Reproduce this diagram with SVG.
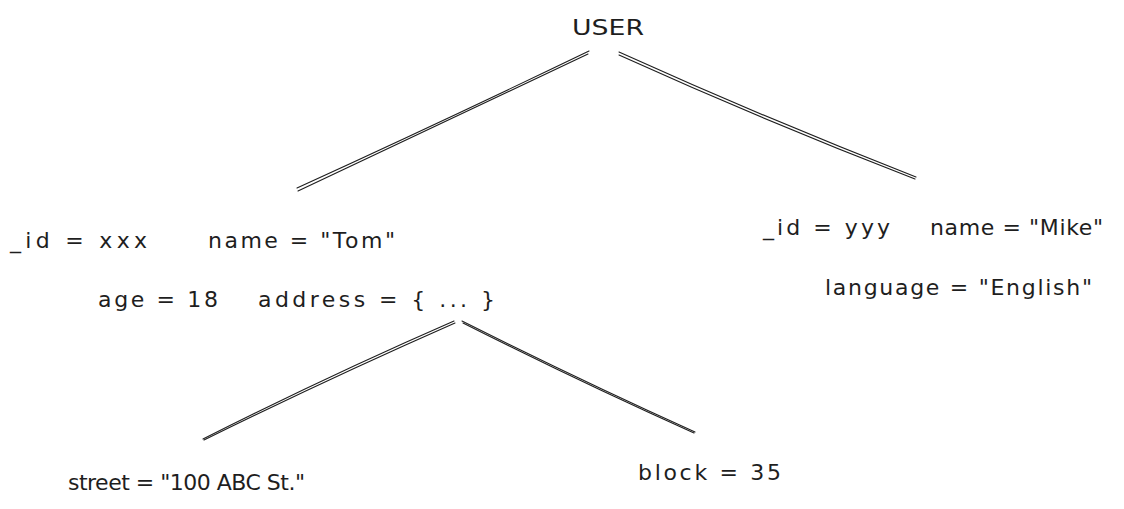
<svg xmlns="http://www.w3.org/2000/svg" width="1124" height="509" viewBox="0 0 1124 509">
<style>
text{font-family:"DejaVu Sans","Liberation Sans",Arial,sans-serif;font-size:22px;fill:#1e1e1e}
.c{stroke:#1e1e1e;stroke-width:1.1;fill:none;stroke-linecap:round}
</style>
<rect width="1124" height="509" fill="#ffffff"/>
<g id="connectors">
<path class="c" d="M589,51 Q450,118 297,188"/>
<path class="c" d="M588,54 Q445,122 298,191"/>
<path class="c" d="M619,52 Q765,118 916,177"/>
<path class="c" d="M619,55 Q765,121 915,179"/>
<path class="c" d="M454,321 Q330,375 203,439"/>
<path class="c" d="M455,323 Q330,378 204,440"/>
<path class="c" d="M462,321 Q580,380 695,432"/>
<path class="c" d="M463,323 Q580,382 694,433"/>
</g>
<g id="user"><text x="572" y="35" textLength="72" lengthAdjust="spacingAndGlyphs">USER</text></g>
<g id="tom">
<text x="10" y="248" textLength="137" lengthAdjust="spacing">_id = xxx</text>
<text x="208" y="248" textLength="187" lengthAdjust="spacing">name = "Tom"</text>
<text x="98" y="307" textLength="120" lengthAdjust="spacing">age = 18</text>
<text x="258" y="307" textLength="237" lengthAdjust="spacing">address = { ... }</text>
</g>
<g id="mike">
<text x="763" y="235" textLength="127" lengthAdjust="spacing">_id = yyy</text>
<text x="930" y="235" textLength="173" lengthAdjust="spacing">name = "Mike"</text>
<text x="825" y="295" textLength="267" lengthAdjust="spacing">language = "English"</text>
</g>
<g id="street"><text x="68" y="490" textLength="237" lengthAdjust="spacing">street = "100 ABC St."</text></g>
<g id="block"><text x="638" y="480" textLength="143" lengthAdjust="spacing">block = 35</text></g>
</svg>
